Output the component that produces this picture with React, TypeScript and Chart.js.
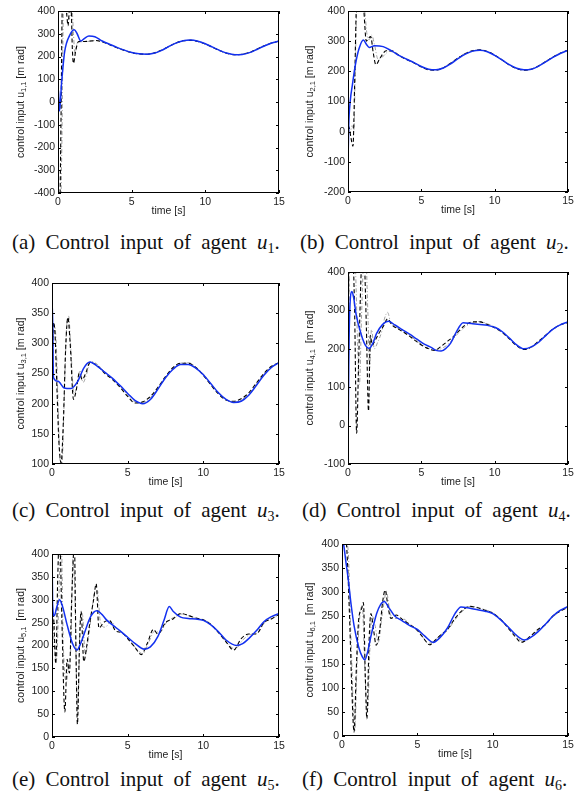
import React, { useEffect, useRef } from 'react';
import { Chart, registerables } from 'chart.js';
Chart.register(...registerables);

// ---------- data: (a) agent 1 ----------
const A_BLUE_T = [0, 0.02, 0.1, 0.25, 0.45, 0.8, 1.1, 1.3, 1.55, 1.8, 2.1, 2.5, 3.0, 3.5, 4.0, 4.5, 5.0, 5.5, 6.0, 6.5, 7.0, 7.5, 8.0, 8.5, 9.0, 9.5, 10.0, 10.5, 11.0, 11.5, 12.0, 12.5, 13.0, 13.5, 14.0, 14.5, 15];
const A_BLUE_V = [-450, 60, -40, 90, 220, 294, 318, 300, 268, 280, 290, 287, 268, 254, 240, 228, 218, 212, 210, 214, 226, 243, 259, 269, 272, 267, 256, 241, 226, 214, 208, 209, 217, 231, 246, 259, 268];
const A_BLACK_T = [0, 0.12, 0.2, 0.3, 0.4, 0.5, 0.6, 0.68, 0.8, 0.9, 0.97, 1.05, 1.2, 1.4, 1.8, 2.2, 2.6, 3.0, 3.5, 4.0, 4.5, 5.0, 5.5, 6.0, 6.5, 7.0, 7.5, 8.0, 8.5, 9.0, 9.5, 10.0, 10.5, 11.0, 11.5, 12.0, 12.5, 13.0, 13.5, 14.0, 14.5, 15];
const A_BLACK_V = [-450, -450, -100, 450, 480, 440, 380, 335, 420, 400, 240, 170, 225, 266, 266, 268, 270, 264, 252, 238, 227, 217, 211, 210, 215, 227, 243, 259, 269, 271, 266, 255, 240, 225, 213, 208, 210, 218, 232, 247, 259, 267];
const A_GRAY_T = [0, 0.18, 0.27, 0.38, 0.5, 0.62, 0.75, 0.86, 0.95, 1.05, 1.15, 1.3, 1.6, 2.0, 2.5, 3.0, 3.5, 4.0, 4.5, 5.0, 5.5, 6.0, 6.5, 7.0, 7.5, 8.0, 8.5, 9.0, 9.5, 10.0, 10.5, 11.0, 11.5, 12.0, 12.5, 13.0, 13.5, 14.0, 14.5, 15];
const A_GRAY_V = [-450, -450, -150, 450, 470, 410, 365, 390, 410, 300, 210, 258, 265, 266, 270, 266, 254, 239, 228, 218, 212, 211, 216, 228, 244, 260, 270, 272, 267, 256, 241, 226, 214, 209, 211, 219, 233, 248, 260, 268];

// ---------- (b) agent 2 ----------
const B_BLUE_T = [0, 0.05, 0.15, 0.3, 0.5, 0.75, 1.05, 1.25, 1.45, 1.8, 2.4, 3.0, 3.5, 4.0, 4.5, 5.0, 5.5, 6.0, 6.5, 7.0, 7.5, 8.0, 8.5, 9.0, 9.5, 10.0, 10.5, 11.0, 11.5, 12.0, 12.5, 13.0, 13.5, 14.0, 14.5, 15];
const B_BLUE_V = [-107, 20, 100, 155, 221, 275, 304, 290, 279, 285, 282, 267, 252, 240, 229, 216, 207, 205, 211, 225, 242, 257, 267, 270, 265, 253, 238, 222, 210, 205, 207, 217, 232, 247, 260, 270];
const B_BLACK_T = [0, 0.1, 0.2, 0.34, 0.45, 0.57, 0.7, 0.9, 1.07, 1.25, 1.4, 1.55, 1.72, 1.9, 2.2, 2.6, 3.0, 3.5, 4.0, 4.5, 5.0, 5.5, 6.0, 6.5, 7.0, 7.5, 8.0, 8.5, 9.0, 9.5, 10.0, 10.5, 11.0, 11.5, 12.0, 12.5, 13.0, 13.5, 14.0, 14.5, 15];
const B_BLACK_V = [20, 10, -20, -48, 150, 420, 520, 520, 410, 300, 310, 315, 262, 222, 245, 268, 268, 252, 239, 228, 214, 205, 204, 212, 227, 244, 259, 268, 271, 266, 254, 238, 221, 209, 204, 207, 218, 233, 248, 261, 270];
const B_GRAY_T = [0, 0.15, 0.28, 0.4, 0.5, 0.62, 0.8, 1.0, 1.15, 1.3, 1.45, 1.62, 1.8, 2.05, 2.4, 2.8, 3.2, 3.6, 4.0, 4.5, 5.0, 5.5, 6.0, 6.5, 7.0, 7.5, 8.0, 8.5, 9.0, 9.5, 10.0, 10.5, 11.0, 11.5, 12.0, 12.5, 13.0, 13.5, 14.0, 14.5, 15];
const B_GRAY_V = [10, 0, 20, 5, 220, 450, 500, 480, 400, 320, 305, 320, 290, 240, 250, 266, 262, 250, 240, 229, 215, 206, 205, 213, 228, 245, 260, 269, 271, 265, 253, 237, 221, 209, 205, 208, 219, 234, 249, 261, 269];

// ---------- (c) agent 3 ----------
const C_BLUE_T = [0, 0.02, 0.1, 0.4, 0.8, 1.25, 1.7, 2.1, 2.5, 3.0, 3.5, 4.0, 4.5, 5.0, 5.5, 6.0, 6.5, 7.0, 7.5, 8.0, 8.5, 9.0, 9.5, 10.0, 10.5, 11.0, 11.5, 12.0, 12.5, 13.0, 13.5, 14.0, 14.5, 15];
const C_BLUE_V = [200, 370, 243, 237, 226, 225, 237, 259, 269, 262, 252, 242, 230, 217, 205, 200, 207, 224, 243, 257, 265, 265, 259, 248, 233, 218, 207, 202, 204, 214, 230, 247, 260, 268];
const C_BLACK_T = [0, 0.1, 0.2, 0.32, 0.45, 0.6, 0.75, 0.9, 1.05, 1.2, 1.42, 1.6, 1.8, 2.0, 2.25, 2.5, 3.0, 3.5, 4.0, 4.5, 5.0, 5.5, 6.0, 6.5, 7.0, 7.5, 8.0, 8.5, 9.0, 9.5, 10.0, 10.5, 11.0, 11.5, 12.0, 12.5, 13.0, 13.5, 14.0, 14.5, 15];
const C_BLACK_V = [230, 335, 315, 230, 140, 102, 170, 290, 343, 300, 207, 222, 250, 240, 252, 268, 263, 250, 240, 227, 212, 201, 203, 212, 227, 245, 260, 267, 267, 260, 247, 231, 216, 206, 204, 208, 218, 234, 250, 262, 268];
const C_GRAY_T = [0, 0.15, 0.28, 0.4, 0.52, 0.65, 0.8, 0.95, 1.1, 1.25, 1.45, 1.65, 1.85, 2.05, 2.3, 2.55, 3.0, 3.5, 4.0, 4.5, 5.0, 5.5, 6.0, 6.5, 7.0, 7.5, 8.0, 8.5, 9.0, 9.5, 10.0, 10.5, 11.0, 11.5, 12.0, 12.5, 13.0, 13.5, 14.0, 14.5, 15];
const C_GRAY_V = [250, 330, 300, 200, 110, 95, 200, 320, 345, 290, 215, 230, 255, 235, 250, 270, 265, 252, 241, 229, 214, 203, 202, 210, 225, 243, 258, 267, 268, 261, 249, 233, 218, 207, 203, 206, 216, 232, 249, 261, 268];

// ---------- (d) agent 4 ----------
const D_BLUE_T = [0, 0.05, 0.12, 0.27, 0.4, 0.55, 0.9, 1.2, 1.45, 1.7, 1.95, 2.35, 2.75, 3.2, 3.7, 4.2, 4.7, 5.2, 5.7, 6.0, 6.35, 6.7, 7.0, 7.4, 7.85, 8.5, 9.0, 9.5, 10.0, 10.5, 11.0, 11.5, 12.0, 12.5, 13.0, 13.5, 14.0, 14.5, 15];
const D_BLUE_V = [-80, 150, 300, 349, 330, 290, 237, 208, 201, 215, 240, 263, 272, 262, 250, 238, 225, 212, 203, 196, 194, 202, 215, 245, 268, 265, 263, 261, 256, 245, 228, 210, 200, 205, 217, 235, 252, 263, 270];
const D_BLACK_T = [0, 0.06, 0.15, 0.3, 0.45, 0.59, 0.72, 0.88, 1.0, 1.1, 1.25, 1.4, 1.52, 1.65, 1.85, 2.1, 2.4, 2.7, 3.0, 3.5, 4.0, 4.5, 5.0, 5.5, 5.9, 6.3, 6.8, 7.2, 7.6, 8.0, 8.5, 9.0, 9.5, 10.0, 10.5, 11.0, 11.5, 12.0, 12.5, 13.0, 13.5, 14.0, 14.5, 15];
const D_BLACK_V = [-80, 420, 500, 480, 300, -20, 160, 380, 480, 450, 260, 38, 235, 210, 222, 240, 258, 278, 262, 250, 238, 224, 210, 200, 196, 205, 220, 232, 248, 262, 270, 270, 263, 255, 243, 226, 208, 198, 205, 220, 236, 252, 263, 268];
const D_GRAY_T = [0, 0.1, 0.3, 0.5, 0.65, 0.78, 0.92, 1.05, 1.2, 1.35, 1.47, 1.6, 1.8, 2.0, 2.3, 2.5, 2.7, 2.9, 3.2, 3.6, 4.0, 4.5, 5.0, 5.5, 6.0, 6.5, 7.0, 7.5, 8.0, 8.5, 9.0, 9.5, 10.0, 10.5, 11.0, 11.5, 12.0, 12.5, 13.0, 13.5, 14.0, 14.5, 15];
const D_GRAY_V = [-50, 450, 480, 420, 220, 107, 280, 420, 450, 300, 150, 250, 200, 215, 245, 280, 295, 270, 258, 250, 240, 226, 212, 201, 197, 203, 218, 240, 258, 268, 271, 265, 257, 245, 228, 210, 199, 203, 218, 235, 251, 262, 268];

// ---------- (e) agent 5 ----------
const E_BLUE_T = [0, 0.04, 0.15, 0.3, 0.5, 0.7, 1.0, 1.35, 1.65, 1.9, 2.15, 2.55, 2.95, 3.3, 3.6, 4.0, 4.5, 5.0, 5.5, 6.1, 6.5, 7.0, 7.4, 7.75, 8.0, 8.5, 9.0, 9.5, 10.0, 10.5, 11.0, 11.5, 12.2, 12.6, 13.0, 13.5, 14.0, 14.5, 15];
const E_BLUE_V = [420, 290, 265, 282, 300, 285, 245, 205, 190, 205, 228, 263, 276, 268, 256, 245, 232, 218, 204, 192, 197, 220, 255, 285, 275, 262, 259, 258, 255, 245, 230, 212, 200, 204, 215, 232, 252, 263, 270];
const E_BLACK_T = [0, 0.1, 0.25, 0.38, 0.5, 0.65, 0.85, 1.0, 1.15, 1.3, 1.48, 1.58, 1.68, 1.8, 1.92, 2.1, 2.3, 2.5, 2.75, 2.92, 3.1, 3.4, 3.8, 4.2, 4.6, 5.0, 5.5, 5.9, 6.3, 6.7, 7.0, 7.5, 8.0, 8.5, 9.0, 9.5, 10.0, 10.5, 11.0, 11.5, 12.0, 12.5, 13.0, 13.5, 14.0, 14.5, 15];
const E_BLACK_V = [270, 263, 160, 350, 450, 260, 55, 170, 140, 300, 420, 200, 28, 180, 275, 165, 200, 250, 300, 335, 238, 250, 255, 232, 228, 215, 195, 180, 205, 235, 225, 250, 258, 270, 266, 260, 256, 246, 228, 208, 190, 215, 225, 225, 250, 258, 268];
const E_GRAY_T = [0, 0.15, 0.3, 0.45, 0.6, 0.75, 0.95, 1.1, 1.25, 1.38, 1.52, 1.62, 1.72, 1.85, 2.0, 2.2, 2.4, 2.65, 2.85, 3.0, 3.2, 3.5, 3.9, 4.3, 4.7, 5.1, 5.6, 6.0, 6.4, 6.8, 7.1, 7.6, 8.1, 8.6, 9.1, 9.6, 10.1, 10.6, 11.1, 11.6, 12.1, 12.6, 13.1, 13.6, 14.1, 14.6, 15];
const E_GRAY_V = [300, 200, 170, 300, 450, 200, 120, 160, 200, 390, 300, 120, 60, 250, 270, 180, 215, 280, 320, 320, 250, 240, 252, 235, 226, 213, 192, 182, 208, 232, 228, 252, 262, 269, 264, 259, 255, 244, 226, 205, 192, 212, 224, 228, 252, 260, 266];

// ---------- (f) agent 6 ----------
const F_BLUE_T = [0, 0.1, 0.25, 0.42, 0.6, 0.8, 1.1, 1.35, 1.52, 1.7, 1.9, 2.3, 2.55, 2.8, 3.1, 3.5, 4.0, 4.5, 5.0, 5.5, 6.05, 6.5, 7.0, 7.5, 7.9, 8.5, 9.0, 9.5, 10.0, 10.5, 11.0, 11.5, 12.1, 12.5, 13.0, 13.5, 14.0, 14.5, 15];
const F_BLUE_V = [405, 400, 365, 325, 275, 230, 186, 165, 159, 175, 205, 255, 273, 280, 268, 250, 240, 230, 222, 208, 195, 205, 225, 255, 269, 266, 263, 260, 255, 243, 228, 212, 200, 205, 217, 233, 250, 262, 270];
const F_BLACK_T = [0, 0.2, 0.3, 0.5, 0.65, 0.8, 0.95, 1.1, 1.3, 1.42, 1.55, 1.65, 1.8, 1.92, 2.1, 2.27, 2.5, 2.7, 2.87, 3.05, 3.25, 3.6, 4.0, 4.5, 5.0, 5.5, 5.8, 6.2, 6.6, 7.0, 7.5, 8.0, 8.5, 9.0, 9.5, 10.0, 10.5, 11.0, 11.5, 11.9, 12.5, 13.0, 13.5, 14.0, 14.5, 15];
const F_BLACK_V = [400, 420, 400, 250, 100, 8, 140, 240, 265, 278, 120, 36, 200, 255, 220, 189, 220, 280, 304, 270, 245, 252, 243, 232, 220, 200, 190, 200, 212, 222, 245, 262, 270, 267, 262, 256, 244, 226, 207, 195, 208, 222, 232, 250, 260, 268];
const F_GRAY_T = [0, 0.3, 0.4, 0.6, 0.85, 1.0, 1.2, 1.35, 1.5, 1.7, 1.85, 2.0, 2.2, 2.4, 2.7, 2.95, 3.2, 3.5, 4.0, 4.5, 5.0, 5.4, 5.7, 6.1, 6.5, 7.0, 7.5, 8.0, 8.5, 9.0, 9.5, 10.0, 10.5, 11.0, 11.5, 12.0, 12.4, 12.8, 13.2, 13.6, 14.0, 14.4, 14.7, 15];
const F_GRAY_V = [410, 400, 390, 200, 10, 150, 255, 270, 150, 50, 180, 250, 230, 195, 260, 300, 255, 245, 245, 233, 222, 205, 193, 198, 210, 220, 242, 260, 270, 268, 263, 257, 245, 228, 210, 197, 202, 214, 225, 235, 248, 258, 264, 268];

// ---------- axes / labels ----------
const X_TICK_STEP = 5;
const X_RANGE = [0, 15];
const Y_RANGES = { a: [-400, 400, 100], b: [-200, 400, 100], c: [100, 400, 50], d: [-100, 400, 100], e: [0, 400, 50], f: [0, 400, 50] };
const LETTERS = ['a', 'b', 'c', 'd', 'e', 'f'];
const AGENTS = ['1', '2', '3', '4', '5', '6'];

const FONT = '"Liberation Sans", Arial, Helvetica, sans-serif';
const SERIF = '"Liberation Serif", "Times New Roman", Times, serif';

type XY = { x: number; y: number };
const zip = (t: number[], v: number[]): XY[] => t.map((x, i) => ({ x, y: v[i] }));

interface Spec {
  key: string;
  agent: string;
  area: { L: number; T: number; R: number; B: number };
  col: number;
  wide: boolean;
  blue: XY[];
  black: XY[];
  gray: XY[];
}

const SPECS: Spec[] = [
  { key: 'a', agent: AGENTS[0], area: { L: 58, T: 11, R: 279, B: 193 }, col: 0, wide: false, blue: zip(A_BLUE_T, A_BLUE_V), black: zip(A_BLACK_T, A_BLACK_V), gray: zip(A_GRAY_T, A_GRAY_V) },
  { key: 'b', agent: AGENTS[1], area: { L: 348, T: 11, R: 568, B: 192 }, col: 1, wide: false, blue: zip(B_BLUE_T, B_BLUE_V), black: zip(B_BLACK_T, B_BLACK_V), gray: zip(B_GRAY_T, B_GRAY_V) },
  { key: 'c', agent: AGENTS[2], area: { L: 52, T: 283, R: 279, B: 464 }, col: 0, wide: false, blue: zip(C_BLUE_T, C_BLUE_V), black: zip(C_BLACK_T, C_BLACK_V), gray: zip(C_GRAY_T, C_GRAY_V) },
  { key: 'd', agent: AGENTS[3], area: { L: 348, T: 272, R: 568, B: 464 }, col: 1, wide: true, blue: zip(D_BLUE_T, D_BLUE_V), black: zip(D_BLACK_T, D_BLACK_V), gray: zip(D_GRAY_T, D_GRAY_V) },
  { key: 'e', agent: AGENTS[4], area: { L: 52, T: 554, R: 279, B: 737 }, col: 0, wide: true, blue: zip(E_BLUE_T, E_BLUE_V), black: zip(E_BLACK_T, E_BLACK_V), gray: zip(E_GRAY_T, E_GRAY_V) },
  { key: 'f', agent: AGENTS[5], area: { L: 342, T: 544, R: 568, B: 736 }, col: 1, wide: true, blue: zip(F_BLUE_T, F_BLUE_V), black: zip(F_BLACK_T, F_BLACK_V), gray: zip(F_GRAY_T, F_GRAY_V) },
];

const CAPTIONS = [
  { left: 12, baseline: 250 },
  { left: 300, baseline: 250 },
  { left: 12, baseline: 518 },
  { left: 302, baseline: 518 },
  { left: 12, baseline: 787 },
  { left: 302, baseline: 787 },
];

const PAD_T = 12;
const PAD_B = 30;

const framePlugin = {
  id: 'frame',
  afterDatasetsDraw(chart: any, _args: any, opts: any) {
    const { ctx, chartArea } = chart;
    const { left, top, right, bottom } = chartArea;
    const xs = chart.scales.x;
    const ys = chart.scales.y;
    ctx.save();
    ctx.strokeStyle = '#000';
    ctx.lineWidth = 1;
    ctx.strokeRect(left + 0.5, top + 0.5, right - left - 1, bottom - top - 1);
    ctx.beginPath();
    xs.ticks.forEach((t: any) => {
      const px = Math.round(xs.getPixelForValue(t.value)) + 0.5;
      ctx.moveTo(px, bottom);
      ctx.lineTo(px, bottom - 3);
      ctx.moveTo(px, top);
      ctx.lineTo(px, top + 3);
    });
    ys.ticks.forEach((t: any) => {
      const py = Math.round(ys.getPixelForValue(t.value)) + 0.5;
      ctx.moveTo(left, py);
      ctx.lineTo(left + 3, py);
      ctx.moveTo(right, py);
      ctx.lineTo(right - 3, py);
    });
    ctx.stroke();

    ctx.fillStyle = '#222';
    ctx.font = `10.5px ${FONT}`;
    ctx.textAlign = 'center';
    ctx.textBaseline = 'middle';
    ctx.fillText('time [s]', (left + right) / 2, bottom + 18);

    ctx.translate(opts.titleX, (top + bottom) / 2);
    ctx.rotate(-Math.PI / 2);
    ctx.textAlign = 'left';
    ctx.textBaseline = 'middle';
    const main = 'control input u';
    const sub = opts.sub;
    const tail = opts.wide ? '  [m rad]' : ' [m rad]';
    ctx.font = `10.5px ${FONT}`;
    const w1 = ctx.measureText(main).width;
    const w3 = ctx.measureText(tail).width;
    ctx.font = `7.5px ${FONT}`;
    const w2 = ctx.measureText(sub).width;
    const start = -(w1 + w2 + w3) / 2;
    ctx.font = `10.5px ${FONT}`;
    ctx.fillText(main, start, 0);
    ctx.fillText(tail, start + w1 + w2, 0);
    ctx.font = `7.5px ${FONT}`;
    ctx.fillText(sub, start + w1, 3);
    ctx.restore();
  },
};

function SubPlot({ spec }: { spec: Spec }) {
  const ref = useRef<HTMLCanvasElement>(null);
  const colLeft = spec.col === 0 ? 0 : 290;
  const colRight = spec.col === 0 ? 290 : 581;
  const { L, T, R, B } = spec.area;
  const padL = L - colLeft;
  const padR = colRight - R;
  const cw = colRight - colLeft;
  const ch = B - T + PAD_T + PAD_B;
  const cTop = T - PAD_T;
  const [yMin, yMax, yStep] = (Y_RANGES as any)[spec.key];

  useEffect(() => {
    const canvas = ref.current!;
    const tickFont = { family: FONT, size: 10.5 };
    const chart = new Chart(canvas, {
      type: 'line',
      data: {
        datasets: [
          { data: spec.blue, borderColor: '#1230f0', borderWidth: 1.5, pointRadius: 0, cubicInterpolationMode: 'monotone', fill: false, clip: 0 } as any,
          { data: spec.black, borderColor: '#000000', borderWidth: 1.1, borderDash: [4, 2.5], pointRadius: 0, cubicInterpolationMode: 'monotone', fill: false, clip: 0 } as any,
          { data: spec.gray, borderColor: '#a0a0a0', borderWidth: 1, borderDash: [4, 2, 1, 2], pointRadius: 0, cubicInterpolationMode: 'monotone', fill: false, clip: 0 } as any,
        ],
      },
      options: {
        animation: false,
        responsive: false,
        maintainAspectRatio: false,
        devicePixelRatio: 1,
        layout: { padding: { top: PAD_T, right: padR, left: 0, bottom: 0 } },
        plugins: {
          legend: { display: false },
          tooltip: { enabled: false },
          frame: { titleX: spec.col === 0 ? 21 : 20, sub: `${spec.agent},1`, wide: spec.wide },
        } as any,
        scales: {
          x: {
            type: 'linear',
            min: X_RANGE[0],
            max: X_RANGE[1],
            ticks: { stepSize: X_TICK_STEP, font: tickFont, color: '#222', padding: 3, maxRotation: 0, autoSkip: false },
            grid: { display: false, drawTicks: false },
            border: { display: false },
            afterFit: (s: any) => { s.height = PAD_B; },
          },
          y: {
            type: 'linear',
            min: yMin,
            max: yMax,
            ticks: { stepSize: yStep, font: tickFont, color: '#222', padding: 3, autoSkip: false },
            grid: { display: false, drawTicks: false },
            border: { display: false },
            afterFit: (s: any) => { s.width = padL; },
          },
        } as any,
      },
      plugins: [framePlugin],
    });
    return () => chart.destroy();
  }, []);

  return (
    <canvas
      ref={ref}
      width={cw}
      height={ch}
      style={{ position: 'absolute', left: colLeft, top: cTop, width: cw, height: ch }}
    />
  );
}

function Caption({ idx }: { idx: number }) {
  const c = CAPTIONS[idx];
  return (
    <div
      style={{
        position: 'absolute',
        left: c.left,
        top: c.baseline - 17.6,
        font: `21px ${SERIF}`,
        lineHeight: '21px',
        whiteSpace: 'nowrap',
        color: '#111',
        wordSpacing: '5px',
      }}
    >
      ({LETTERS[idx]}) Control input of agent{' '}
      <i>u</i>
      <span style={{ fontSize: '14px', position: 'relative', top: '4px', wordSpacing: 0 }}>{AGENTS[idx]}</span>.
    </div>
  );
}

export default function App() {
  return (
    <div style={{ position: 'fixed', left: 0, top: 0, width: 581, height: 800, background: '#fff', overflow: 'hidden' }}>
      {SPECS.map((s) => (
        <SubPlot key={s.key} spec={s} />
      ))}
      {SPECS.map((s, i) => (
        <Caption key={'c' + s.key} idx={i} />
      ))}
    </div>
  );
}
